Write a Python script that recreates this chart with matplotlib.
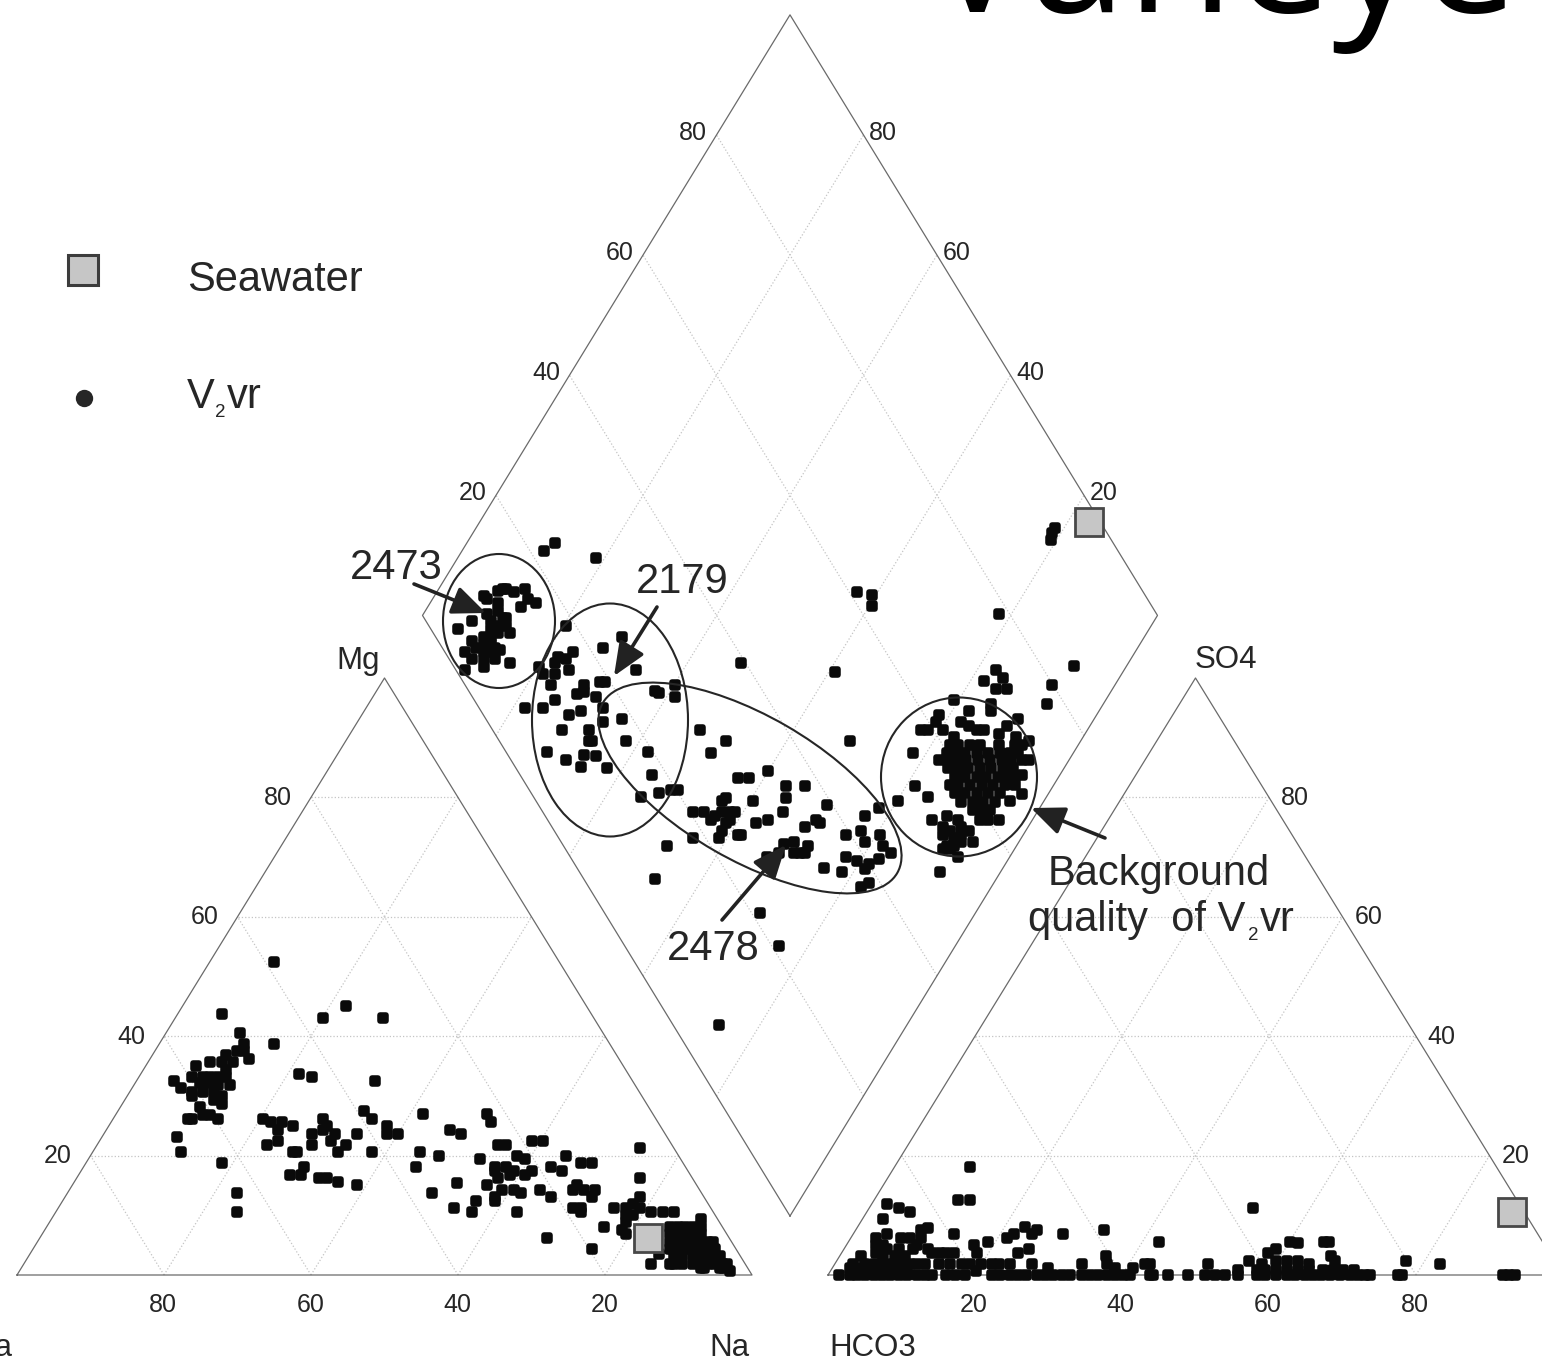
import matplotlib
matplotlib.use('Agg')
import matplotlib.pyplot as plt
from matplotlib.markers import MarkerStyle
from matplotlib.patches import Ellipse
from matplotlib.transforms import Affine2D

plt.rcParams['font.family'] = ['Liberation Sans', 'DejaVu Sans']

W, H = 1542, 1359

# left triangle: (position along the base, Mg %)
cation_upper = [
    (35.0, 52.5), (27.9, 43.8), (41.6, 43.1), (44.7, 45.0), (49.8, 43.1), (30.4, 40.6), (35.0, 38.7),
    (30.9, 38.7), (30.9, 37.5), (29.9, 37.5), (31.5, 36.2), (28.4, 36.9), (29.4, 35.6), (27.9, 35.6),
    (26.3, 35.6), (24.3, 35.0), (28.4, 34.3), (23.8, 33.1), (25.3, 33.1), (26.3, 33.1), (27.4, 33.1),
    (28.4, 33.1), (21.3, 32.5), (24.9, 32.1), (26.3, 32.1), (27.4, 31.8), (29.0, 31.8), (22.3, 31.3),
    (23.8, 30.6), (25.3, 30.6), (26.8, 30.6), (27.9, 30.0), (23.8, 30.0), (26.8, 29.3), (27.9, 28.7),
    (24.9, 28.1), (25.3, 26.8), (26.3, 26.8), (27.4, 26.2), (23.3, 26.2), (23.8, 26.2), (21.8, 23.1),
    (22.3, 20.6), (27.9, 18.7), (29.9, 13.7), (29.9, 10.6), (38.3, 33.7), (40.1, 33.1), (48.7, 32.5),
    (33.5, 26.2), (34.5, 25.6), (36.0, 25.6), (37.6, 25.0), (35.5, 24.3), (35.5, 22.4), (34.0, 21.8),
    (40.1, 23.7), (41.6, 26.2), (41.6, 24.3), (42.2, 25.0), (43.2, 23.7), (42.7, 22.5), (40.1, 21.8),
    (44.7, 21.8), (43.7, 20.6), (37.6, 20.6), (38.1, 20.6), (46.2, 23.7), (47.2, 27.5), (48.3, 26.2),
    (48.3, 20.6), (50.3, 25.0), (50.3, 23.7), (51.8, 23.7), (39.1, 18.1), (37.1, 16.8), (38.6, 16.8),
    (41.1, 16.2), (42.2, 16.2), (43.7, 15.6), (46.2, 15.0),
]
cation_lower = [
    (55.3, 26.9), (58.9, 24.3), (60.4, 23.7), (64.0, 26.9), (64.5, 25.6), (54.8, 20.6), (57.4, 20.0),
    (54.3, 18.1), (63.0, 19.4), (65.5, 21.8), (66.5, 21.8), (70.1, 22.5), (71.6, 22.5), (68.0, 20.0),
    (69.1, 19.5), (74.7, 20.0), (65.0, 18.1), (66.5, 18.1), (65.0, 17.5), (67.6, 17.5), (67.1, 16.8),
    (69.1, 16.8), (70.1, 17.5), (72.6, 18.1), (74.2, 17.5), (76.7, 18.7), (78.2, 18.7), (65.5, 16.2),
    (64.0, 15.0), (66.0, 14.3), (67.6, 14.3), (68.6, 13.7), (71.1, 14.3), (72.6, 13.1), (59.9, 15.4),
    (56.4, 13.7), (65.0, 13.1), (65.0, 12.4), (62.4, 12.4), (59.4, 11.2), (61.9, 10.5), (68.0, 10.5),
    (72.1, 6.2), (75.7, 14.3), (76.2, 15.0), (77.2, 14.3), (78.7, 14.3), (78.2, 13.1), (75.7, 11.2),
    (76.7, 11.2), (76.7, 10.5), (79.8, 8.1), (78.2, 4.3), (81.2, 11.2), (84.8, 21.2), (84.8, 16.2),
    (84.8, 13.1), (82.8, 11.2), (83.8, 11.9), (84.8, 11.2), (86.3, 10.5), (87.9, 10.5), (89.4, 10.5),
    (82.8, 10.0), (83.8, 10.0), (82.8, 8.8), (82.3, 7.5), (82.8, 6.9), (86.3, 1.8), (87.4, 3.6),
    (93.0, 9.4), (93.0, 8.1),
]
cation_na_end = [
    (88.9, 8.1), (89.9, 8.1), (90.9, 8.1), (92.0, 8.1),
    (88.9, 6.9), (89.9, 6.9), (90.9, 6.9), (92.0, 6.9), (93.0, 6.9),
    (88.9, 5.6), (89.9, 5.6), (90.9, 5.6), (92.0, 5.6), (93.0, 5.6), (94.0, 5.6), (94.7, 5.6),
    (88.9, 4.4), (89.9, 4.4), (90.9, 4.4), (92.0, 4.4), (93.0, 4.4), (94.0, 4.4), (95.0, 4.4),
    (89.4, 3.1), (90.5, 3.1), (92.0, 3.1), (93.0, 3.1), (94.0, 3.1), (95.0, 3.1), (95.6, 3.1),
    (88.9, 1.8), (89.4, 1.8), (90.5, 1.8), (92.0, 1.8), (93.0, 1.8), (94.0, 1.8), (95.0, 1.8),
    (96.1, 1.8), (96.6, 1.8), (93.0, 1.1), (93.5, 1.1), (95.6, 1.1), (96.1, 1.1), (97.0, 0.6),
]

# right triangle: (position along the base, SO4 %)
anion_above = [
    (19.3, 18.1), (17.7, 12.5), (19.3, 12.5), (8.0, 11.9), (9.6, 11.2), (11.1, 10.6), (7.5, 9.3),
    (8.0, 6.8), (6.5, 6.2), (10.0, 6.2), (11.2, 6.2), (12.6, 7.5), (13.6, 7.8), (12.6, 6.2),
    (17.2, 6.8), (19.8, 5.0), (20.3, 3.7), (21.8, 5.6), (24.3, 6.2), (25.3, 6.8), (26.8, 8.0),
    (27.8, 6.8), (28.4, 7.5), (27.3, 4.4), (25.8, 3.7), (32.0, 6.8), (37.5, 7.5), (37.8, 3.1),
    (45.1, 5.6), (6.5, 5.0), (7.5, 5.0), (6.5, 3.7), (8.0, 4.4), (9.6, 4.4), (12.1, 5.0),
    (11.6, 4.4), (13.6, 4.4), (14.1, 3.7), (15.2, 3.7), (16.1, 3.7), (17.2, 3.7), (4.5, 3.1),
    (7.5, 3.1), (9.1, 3.1), (10.5, 3.1), (20.2, 0.6),
    (57.8, 11.2), (62.8, 5.6), (64.0, 5.3), (67.5, 5.6), (68.2, 5.6), (60.9, 4.4), (59.8, 3.7),
    (68.5, 3.1), (69.0, 2.4), (57.3, 2.4), (60.9, 2.4), (51.7, 1.9), (78.6, 2.4), (83.2, 1.9),
    (59.0, 1.9), (62.4, 2.4), (64.0, 2.4), (65.4, 1.9),
]
anion_low = [
    (3.4, 1.9), (5.0, 1.9), (6.2, 1.9), (7.3, 1.9), (8.7, 1.9), (10.0, 1.9), (11.2, 1.9), (12.1, 1.9),
    (13.2, 1.9), (15.1, 1.9), (16.6, 1.9), (18.2, 1.9), (19.3, 1.9), (20.8, 1.9), (22.3, 1.9),
    (23.3, 1.9), (24.8, 1.9), (27.8, 1.9), (34.5, 1.9), (37.9, 1.9), (43.1, 1.9), (43.8, 1.9),
    (3.0, 1.2), (4.3, 1.2), (5.5, 1.2), (6.8, 1.2), (8.2, 1.2), (9.6, 1.2), (10.7, 1.2), (30.0, 1.2),
    (39.0, 1.2), (41.5, 1.2),
    (55.8, 0.9), (58.3, 0.9), (59.4, 0.9), (60.9, 0.9), (62.4, 0.9), (64.0, 0.9), (65.4, 0.9),
    (67.4, 0.9), (68.7, 0.9), (70.1, 0.9), (71.6, 0.9),
]
anion_base = [
    1.5, 3.0, 3.9, 5.0, 6.2, 7.3, 8.4, 9.6, 10.7, 12.1, 13.2, 14.2, 16.1, 17.3, 18.6, 22.3, 23.4, 24.8,
    25.9, 26.9, 28.4, 29.5, 30.6, 31.8, 32.9, 34.5, 35.6, 36.8, 37.9, 39.0, 40.2, 41.1, 43.8, 44.2,
    46.2, 49.0, 51.3, 52.6, 54.0, 55.8, 58.3, 59.4, 60.9, 62.4, 63.5, 64.9, 66.0, 67.1, 68.3, 69.6,
    71.0, 72.1, 73.0, 73.7, 77.6, 78.1, 91.8, 92.7, 93.5,
]

# diamond: (offset from the vertical centre line, height above the bottom corner)
group_2473 = [
    (-44.2, 102.0), (-41.7, 103.9), (-41.2, 103.3), (-39.7, 104.7), (-39.1, 105.1), (-38.6, 105.1),
    (-37.6, 104.6), (-36.1, 105.1), (-35.6, 103.3), (-34.5, 102.6), (-36.6, 102.0), (-39.7, 102.6),
    (-39.7, 101.4), (-41.2, 100.8), (-43.2, 99.6), (-45.2, 98.3), (-40.7, 99.6), (-39.1, 100.1),
    (-38.6, 100.1), (-38.6, 98.8), (-39.7, 98.8), (-40.7, 98.3), (-38.1, 97.6), (-41.7, 97.0),
    (-40.7, 97.0), (-39.7, 97.6), (-43.2, 96.4), (-41.7, 95.8), (-40.7, 95.8), (-42.7, 95.1),
    (-40.1, 95.1), (-44.2, 94.5), (-41.7, 94.5), (-40.7, 94.5), (-39.4, 94.8), (-43.2, 93.3),
    (-41.7, 93.3), (-40.1, 93.3), (-41.7, 92.0), (-44.2, 91.4), (-38.1, 92.6),
]
group_2179 = [
    (-30.5, 98.9), (-29.5, 94.5), (-30.5, 93.3), (-31.6, 93.6), (-32.0, 92.6), (-30.0, 91.4),
    (-34.1, 92.0), (-33.6, 90.8), (-32.0, 90.8), (-32.5, 88.9), (-32.0, 86.4), (-36.1, 85.1),
    (-33.6, 85.1), (-28.5, 84.6), (-30.0, 83.9), (-31.0, 81.4), (-33.0, 77.7), (-30.5, 76.4),
    (-28.5, 75.2), (-28.0, 88.9), (-28.0, 87.7), (-29.0, 87.4), (-26.4, 87.0), (-25.9, 89.5),
    (-25.2, 89.5), (-25.4, 85.1), (-25.4, 82.7), (-22.9, 97.0), (-25.4, 95.1), (-20.9, 91.4),
    (-22.9, 83.3), (-22.3, 79.6), (-27.4, 81.4), (-27.4, 79.6), (-26.9, 79.6), (-28.0, 77.3),
    (-26.4, 77.0), (-24.9, 75.1), (-19.3, 77.7), (-18.8, 73.9), (-17.8, 70.8), (-20.3, 70.2),
    (-16.2, 71.4), (-15.2, 71.4), (-15.7, 88.9), (-15.7, 87.0), (-18.3, 88.0), (-17.8, 87.6),
]
group_2478 = [
    (-12.2, 81.4), (-10.7, 77.6), (-8.7, 79.6), (-3.0, 74.5), (-7.1, 73.3), (-5.6, 73.3), (-0.6, 72.0),
    (-0.6, 70.1), (2.0, 72.0), (5.1, 68.9), (-5.1, 69.5), (-8.7, 70.1), (-9.2, 69.5), (-13.2, 67.6),
    (-11.7, 67.6), (-10.2, 67.0), (-10.7, 66.3), (-9.2, 67.6), (-8.2, 67.6), (-7.5, 67.6), (-8.2, 66.3),
    (-8.7, 65.8), (-9.2, 64.5), (-9.7, 63.3), (-7.1, 63.9), (-6.6, 63.9), (-4.6, 65.8), (-3.0, 66.4),
    (-1.0, 67.7), (-13.2, 63.3), (-16.8, 62.0), (-18.3, 56.4), (2.0, 65.2), (3.5, 66.4), (4.1, 65.8),
    (0.5, 62.6), (2.5, 62.0), (-0.8, 62.3), (-1.5, 60.8), (-3.1, 60.1), (0.5, 60.8), (1.4, 60.8),
    (2.0, 60.8), (4.6, 58.3), (7.1, 57.7), (7.6, 63.9), (7.6, 60.1), (9.1, 59.5), (9.6, 64.5),
    (10.2, 62.7), (10.2, 67.0), (12.1, 68.3), (12.2, 63.9), (12.7, 62.0), (13.7, 60.8), (12.1, 59.8),
    (10.7, 58.9), (10.2, 58.2), (10.7, 55.8), (9.6, 55.1), (14.7, 69.5),
]
group_background = [
    (16.7, 77.6), (20.3, 83.9), (19.8, 82.8), (17.8, 81.4), (18.8, 81.4), (20.8, 81.4), (22.3, 86.4),
    (24.4, 84.6), (23.3, 82.8), (24.4, 82.1), (25.4, 81.4), (26.4, 81.4), (27.4, 85.8), (27.4, 84.6),
    (28.0, 91.5), (29.0, 90.2), (26.4, 89.6), (28.0, 88.3), (29.5, 88.3), (31.0, 83.3), (29.5, 82.1),
    (28.4, 80.8), (35.6, 89.0), (35.0, 85.8), (17.0, 72.0), (18.8, 70.2), (19.3, 66.4), (21.3, 67.0),
    (22.9, 66.4), (20.8, 65.2), (20.8, 63.9), (21.8, 64.5), (23.3, 65.2), (24.4, 64.5), (23.3, 63.9),
    (22.3, 63.3), (23.3, 62.6), (24.9, 62.6), (21.3, 62.0), (22.3, 62.0), (20.8, 61.4), (21.8, 61.4),
    (22.9, 60.1), (20.4, 57.7), (25.9, 66.4), (27.0, 66.4), (28.4, 66.4), (30.0, 69.5), (31.5, 70.7),
    (32.5, 79.5), (32.5, 76.4), (31.5, 73.9),
    (22.3, 80.3), (30.8, 80.3),
    (21.8, 78.9), (22.9, 78.9), (24.5, 78.9), (25.8, 78.9), (28.4, 78.9), (30.6, 78.9), (31.5, 78.9),
    (21.3, 77.5), (22.4, 77.5), (23.8, 77.5), (25.4, 77.5), (27.0, 77.5), (28.6, 77.5), (29.9, 77.5),
    (31.0, 77.5), (20.3, 76.4), (21.3, 76.4), (22.7, 76.4), (24.0, 76.4), (25.6, 76.4), (27.2, 76.4),
    (28.8, 76.4), (30.1, 76.4), (31.5, 76.4), (21.5, 75.0), (22.9, 75.0), (24.2, 75.0), (25.8, 75.0),
    (27.4, 75.0), (29.0, 75.0), (30.4, 75.0), (22.4, 73.6), (23.8, 73.6), (25.4, 73.6), (26.7, 73.6),
    (28.3, 73.6), (29.7, 73.6), (30.6, 73.6), (21.8, 72.2), (22.9, 72.2), (24.5, 72.2), (26.1, 72.2),
    (27.6, 72.2), (29.2, 72.2), (30.6, 72.2), (22.4, 70.8), (23.8, 70.8), (25.4, 70.8), (27.0, 70.8),
    (28.6, 70.8), (23.3, 69.4), (24.9, 69.4), (26.3, 69.4), (27.9, 69.4), (24.9, 68.0), (26.1, 68.0),
    (27.2, 68.0),
]
diamond_scattered = [
    (-33.5, 111.4), (-32.0, 112.7), (-26.4, 110.2), (-6.6, 92.7), (6.1, 91.1), (8.1, 79.6),
    (-4.1, 50.8), (-1.5, 45.2), (-9.7, 32.0), (9.1, 104.5), (11.2, 104.0), (11.2, 102.2),
    (28.4, 100.8), (38.6, 92.1), (35.5, 113.2), (35.6, 114.4), (36.0, 115.2),
]

seawater_left = (85.8, 6.2)
seawater_right = (93.1, 10.6)
seawater_diamond = (40.7, 116.2)

tick_values = [20, 40, 60, 80]

# scale of the diagram on the figure, one unit of base = 7.35 px, one % of height = 5.97 px
x_min, x_max = -17 / 7.35, (W - 17) / 7.35
y_min, y_max = -(H - 1275) / 5.97, 1275 / 5.97
left_x0 = 0.0
right_x0 = 110.34
dia_x0, dia_y0 = 105.17, 9.88
dia_w, dia_h = 50.0, 100.6

fig = plt.figure(figsize=(W / 100, H / 100), dpi=100)
ax = fig.add_axes([0, 0, 1, 1])
ax.set_xlim(x_min, x_max)
ax.set_ylim(y_min, y_max)
ax.axis('off')

# figure pixels, measured from the top left corner
px = Affine2D().scale(1.0 / W, -1.0 / H).translate(0, 1) + fig.transFigure

edge_col = '#6a6a6a'
grid_col = '#c4c4c4'
dot_col = '#0a0a0a'
ink = '#262626'


def draw_triangle(x0):
    ax.plot([x0, x0 + 100, x0 + 50, x0], [0, 0, 100, 0], color=edge_col, lw=0.9, zorder=2, clip_on=False)
    for t in tick_values:
        ax.plot([x0 + t / 2, x0 + 100 - t / 2], [t, t], color=grid_col, lw=0.9, ls=':', zorder=1)
        ax.plot([x0 + t, x0 + 50 + t / 2], [0, 100 - t], color=grid_col, lw=0.9, ls=':', zorder=1)
        ax.plot([x0 + t, x0 + t / 2], [0, t], color=grid_col, lw=0.9, ls=':', zorder=1)


def dia_point(a, b):
    return dia_x0 + dia_w * (b - a) / 100.0, dia_y0 + dia_h * (a + b) / 100.0


def draw_diamond():
    corners = [dia_point(0, 0), dia_point(100, 0), dia_point(100, 100), dia_point(0, 100), dia_point(0, 0)]
    ax.plot([c[0] for c in corners], [c[1] for c in corners], color=edge_col, lw=0.9, zorder=2)
    for t in tick_values:
        p, q = dia_point(t, 0), dia_point(t, 100)
        ax.plot([p[0], q[0]], [p[1], q[1]], color=grid_col, lw=0.9, ls=':', zorder=1)
        p, q = dia_point(0, t), dia_point(100, t)
        ax.plot([p[0], q[0]], [p[1], q[1]], color=grid_col, lw=0.9, ls=':', zorder=1)


def draw_points(points, x0, y0=0.0):
    xs = [p[0] + x0 for p in points]
    ys = [p[1] + y0 for p in points]
    ax.plot(xs, ys, ls='', marker=MarkerStyle('s', joinstyle='round'), ms=3.8, mew=4.0,
            mfc=dot_col, mec=dot_col, zorder=3)


def put(x, y, txt, size, **kw):
    ax.text(x, y, txt, transform=px, fontsize=size, color=ink, zorder=6, **kw)


draw_triangle(left_x0)
draw_triangle(right_x0)
draw_diamond()

draw_points(cation_upper, left_x0)
draw_points(cation_lower, left_x0)
draw_points(cation_na_end, left_x0)
draw_points(anion_above, right_x0)
draw_points(anion_low, right_x0)
draw_points([(v, 0.0) for v in anion_base], right_x0)
for group in (group_2473, group_2179, group_2478, group_background, diamond_scattered):
    draw_points(group, dia_x0, dia_y0)

for pos, x0, y0 in ((seawater_left, left_x0, 0), (seawater_right, right_x0, 0), (seawater_diamond, dia_x0, dia_y0)):
    ax.plot(pos[0] + x0, pos[1] + y0, ls='', marker='s', ms=20.5, mew=2.0, mfc='#c6c6c6', mec='#484848',
            zorder=5, clip_on=False)

# tick labels
tick_kw = dict(ha='center', va='center', fontsize=18, color=ink)
for t in tick_values:
    ax.text(left_x0 + 100 - t - 0.1, -5.0, str(t), **tick_kw)
    ax.text(left_x0 + t / 2 - 4.5, t - 0.1, str(t), **tick_kw)
    ax.text(right_x0 + t - 0.2, -5.0, str(t), **tick_kw)
    ax.text(right_x0 + 100 - t / 2 + 3.5, t - 0.1, str(t), **tick_kw)
    p = dia_point(100, t)
    q = dia_point(t, 100)
    ax.text(p[0] - 3.2, p[1] + 0.4, str(t), **tick_kw)
    ax.text(q[0] + 2.7, q[1] + 0.4, str(t), **tick_kw)

# corner names, the ones at the bottom run to the lower edge of the picture
label_size = 22.5
put(358, 669, 'Mg', label_size, ha='center', va='baseline')
put(1226, 668, 'SO4', label_size, ha='center', va='baseline')
put(729, 1356.5, 'Na', label_size, ha='center', va='baseline')
put(873, 1356.5, 'HCO3', label_size, ha='center', va='baseline')
put(12, 1356.5, 'Ca', label_size, ha='right', va='baseline')

# legend
big = 30
sub = 13.5
ax.plot([83], [270], transform=px, ls='', marker='s', ms=21.5, mew=2.2, mfc='#c6c6c6', mec='#3c3c3c', zorder=5)
ax.plot([84], [398], transform=px, ls='', marker='o', ms=12.5, mew=0, mfc=ink, zorder=5)
put(187, 291, 'Seawater', big, ha='left', va='baseline')
put(187, 408, 'V', big, ha='left', va='baseline')
put(215, 417, '2', sub, ha='left', va='baseline')
put(227, 408, 'vr', big, ha='left', va='baseline')

# groups and their arrows
for cx, cy, w, h, ang in ((499, 621, 112, 134, 0), (610, 720, 156, 233, 0),
                          (750, 788, 340, 144, 30), (959, 777, 156, 159, 0)):
    ax.add_patch(Ellipse((cx, cy), w, h, angle=ang, transform=px, fill=False, ec=ink, lw=1.5, zorder=4))

put(350, 579, '2473', big, ha='left', va='baseline')
put(636, 593, '2179', big, ha='left', va='baseline')
put(667, 960, '2478', big, ha='left', va='baseline')
put(1048, 885, 'Background', big, ha='left', va='baseline')
put(1028, 931, 'quality  of V', big, ha='left', va='baseline')
put(1248, 940, '2', sub, ha='left', va='baseline')
put(1260, 931, 'vr', big, ha='left', va='baseline')

for x0, y0, x1, y1 in ((414, 584, 486, 613), (657, 607, 614, 676), (722, 920, 786, 845), (1105, 838, 1031, 808)):
    ax.annotate('', xy=(x1, y1), xytext=(x0, y0), xycoords=px, textcoords=px, zorder=6,
                arrowprops=dict(arrowstyle='-|>,head_length=0.85,head_width=0.36', color='#222222', lw=2.6,
                                mutation_scale=24, shrinkA=0, shrinkB=0))

# title cut off by the top of the picture
ax.text(925, 12, 'Vaneye', transform=px, ha='left', va='baseline', fontsize=126, color='black',
        family=['Open Sans', 'DejaVu Sans'])

fig.savefig('out.png', dpi=100)
